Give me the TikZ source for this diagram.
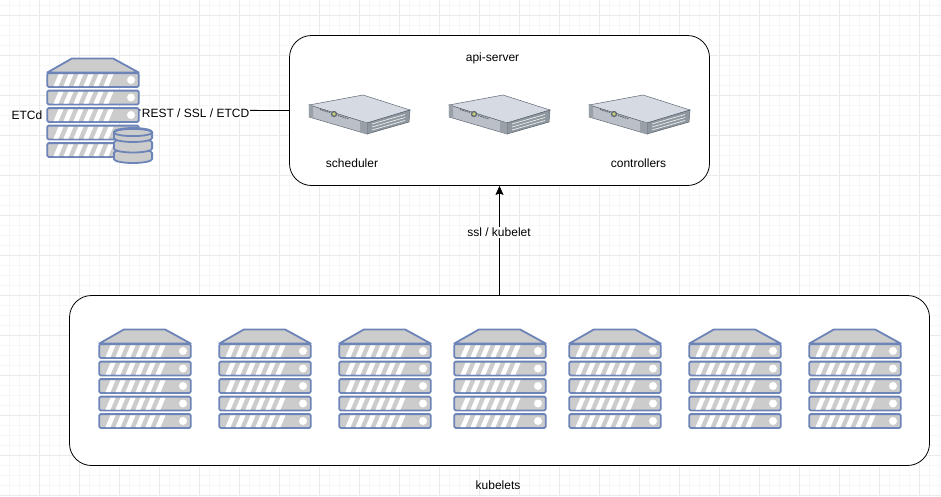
\documentclass[tikz,border=0pt]{standalone}
\usepackage{fontspec}
\setmainfont{Liberation Sans}
\usetikzlibrary{arrows.meta, calc}
\definecolor{rackblue}{HTML}{6C84B8}
\definecolor{rackgray}{HTML}{CCCCCC}
\definecolor{gridminor}{HTML}{F7F7F7}
\definecolor{gridmajor}{HTML}{EAEAEA}
\definecolor{bladeline}{HTML}{5F6873}
\definecolor{bladetop}{HTML}{D5DAE3}
\definecolor{bladefront}{HTML}{BBC0C8}
\definecolor{bladeside}{HTML}{8F979F}
\definecolor{bladeear}{HTML}{9AA0A8}
\definecolor{bladelamp}{HTML}{C9CF78}
\tikzset{
    groupbox/.style={draw=black, fill=white, line width=0.8pt, rounded corners=22pt},
    caption/.style={inner sep=1pt, font=\fontsize{12}{14}\selectfont},
    linkcaption/.style={caption, fill=white},
    rackpart/.style={draw=rackblue, fill=rackgray, line width=1.8pt, line join=round, rounded corners=1.2pt},
    serverstack/.pic={
        \coordinate (-east) at (92,52);
        \path[rackpart, rounded corners=0pt] (0.3,14.5) -- (25,0.4) -- (66,0.4) -- (91.7,14.5) -- cycle;
        \foreach \rowy in {14.5,32,49.5,67,84.5} {
            \path[rackpart] (0.3,\rowy+0.6) rectangle (91.7,\rowy+14.4);
            \foreach \slash in {0,...,5} {
                \fill[white] (6.5+10*\slash,\rowy+13.5) -- (11.5+10*\slash,\rowy+1.8) -- (16.5+10*\slash,\rowy+1.8) -- (11.5+10*\slash,\rowy+13.5) -- cycle;
            }
            \fill[white] (84,\rowy+7.5) circle (4);
        }
    },
    rackblade/.pic={
        \fill[bladetop, draw=bladeline, line width=0.5pt] (0,10) -- (54,0) -- (101,15) -- (58,28) -- cycle;
        \fill[bladefront, draw=bladeline, line width=0.5pt] (0,10) -- (58,28) -- (58,39) -- (0,22) -- cycle;
        \fill[bladeside, draw=bladeline, line width=0.5pt] (58,28) -- (101,15) -- (100,27) -- (58,39) -- cycle;
        \fill[bladeear] (0,9) -- (4,10.5) -- (4,23) -- (0,22) -- cycle;
        \fill[bladeear] (51,26) -- (58,28) -- (58,39) -- (51,37) -- cycle;
        \foreach \slot in {0,3,6} {
            \draw[white!85!bladeside, line width=0.7pt] (63,29+\slot) -- (96,19.5+\slot);
        }
        \fill[bladeline] (25,19) circle (3.2);
        \fill[bladelamp] (25,19) circle (1.8);
        \draw[bladeline, line width=1pt, dash pattern=on 1.5pt off 0.8pt] (11,14.5) -- (21,17.5);
        \draw[bladeline, line width=1pt, dash pattern=on 1.5pt off 0.8pt] (29,20.5) -- (40,24);
    },
    diskstack/.pic={
        \foreach \disky in {21,10.5,0} {
            \path[rackpart, rounded corners=0pt] (0.9,\disky+4) -- (0.9,\disky+10) arc[start angle=180, end angle=0, x radius=19.1, y radius=4] -- (39.1,\disky+4) arc[start angle=0, end angle=-180, x radius=19.1, y radius=4] -- cycle;
        }
        \path[rackpart, rounded corners=0pt] (20,4.5) ellipse[x radius=19.1, y radius=3.6];
    }
}
\begin{document}
\begin{tikzpicture}[x=1pt, y=-1pt, >={Stealth[length=9pt, width=8pt, inset=1.5pt]}]
\useasboundingbox (0,0) rectangle (941,496);
\fill[white] (0,0) rectangle (941,496);

% background grid
\foreach \gridx in {0,...,94} {
    \draw[gridminor, line width=1pt] (\gridx*10-0.5,0) -- (\gridx*10-0.5,496);
}
\foreach \gridy in {0,...,49} {
    \draw[gridminor, line width=1pt] (0,\gridy*10+5.5) -- (941,\gridy*10+5.5);
}
\foreach \gridx in {0,...,23} {
    \draw[gridmajor, line width=1pt] (\gridx*40+39.5,0) -- (\gridx*40+39.5,496);
}
\foreach \gridy in {0,...,12} {
    \draw[gridmajor, line width=1pt] (0,\gridy*40+15.5) -- (941,\gridy*40+15.5);
}

% groups
\node (api_box) [groupbox, minimum width=420pt, minimum height=150pt, inner sep=0pt] at (499.5,110.5) {};
\node (kubelets_box) [groupbox, minimum width=860pt, minimum height=170pt, inner sep=0pt] at (499.5,380.5) {};

% etcd
\pic (etcd) at (47,58) {serverstack};
\pic (etcd_disk) at (113,128) {diskstack};
\node (etcd_label) [caption] at (27,115) {ETCd};

% api server
\pic (blade_scheduler) at (309,95) {rackblade};
\pic (blade_api) at (449,95) {rackblade};
\pic (blade_controllers) at (589,95) {rackblade};
\node (api_label) [caption] at (492.5,58) {api-server};
\node (scheduler_label) [caption] at (352,163) {scheduler};
\node (controllers_label) [caption] at (638.5,163) {controllers};

% kubelets
\foreach \kubex in {99,219,339,454,569,689,809} {
    \pic (kube\kubex) at (\kubex,329) {serverstack};
}
\node (kubelets_label) [caption] at (498,485) {kubelets};

\draw[line width=0.8pt] (etcd-east) -- node[linkcaption, pos=0.377, yshift=-3pt] {REST / SSL / ETCD} (api_box.west);
\draw[->, line width=0.8pt] (kubelets_box.north) -- node[linkcaption, pos=0.59, yshift=-1.5pt, xshift=-0.5pt] {ssl / kubelet} (api_box.south);
\end{tikzpicture}
\end{document}
